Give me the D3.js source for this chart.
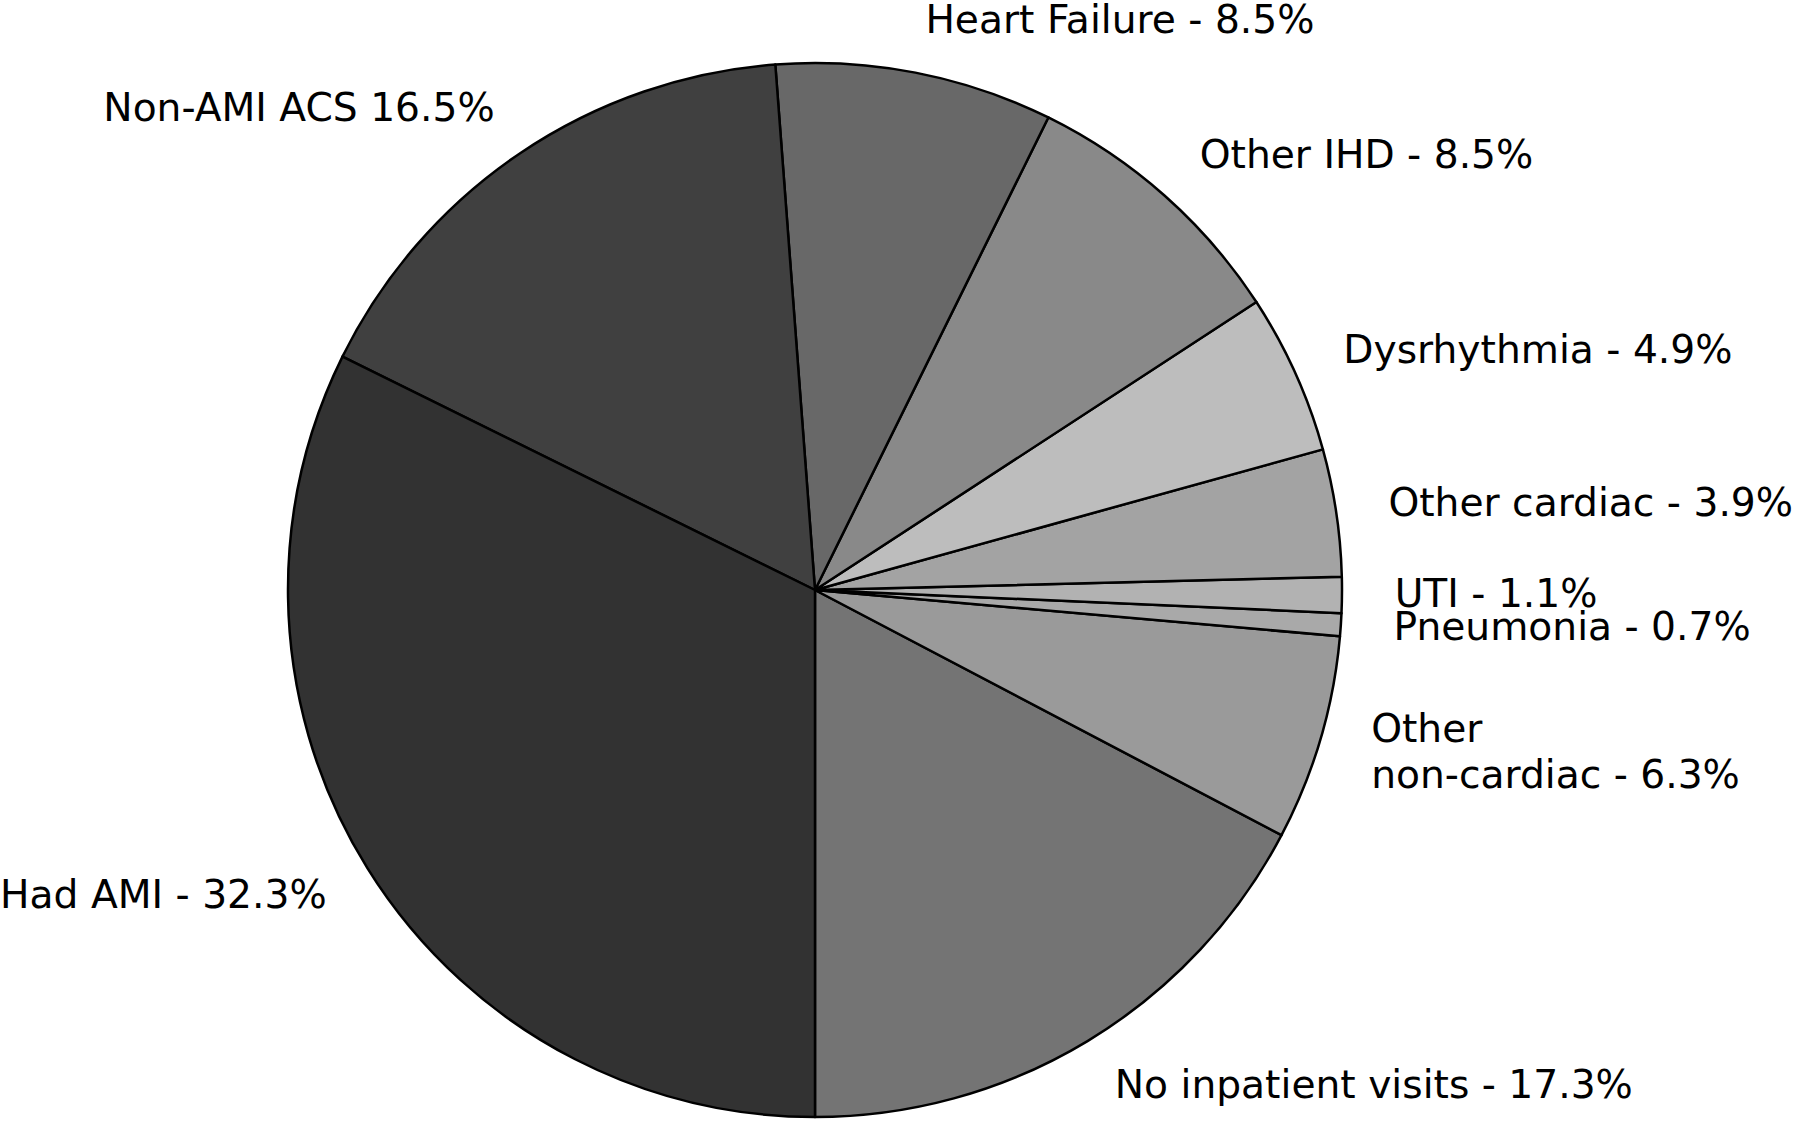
<!DOCTYPE html>
<html>
<head>
<meta charset="utf-8">
<script src="https://cdn.jsdelivr.net/npm/d3@7"></script>
<style>
  html, body { margin: 0; padding: 0; background: #fff; }
  svg { display: block; }
</style>
</head>
<body>
<svg id="chart"></svg>
<script>
// slices in drawing order: from 6 o'clock, counter-clockwise
const categories = [
  "No inpatient visits", "Other non-cardiac", "Pneumonia", "UTI",
  "Other cardiac", "Dysrhythmia", "Other IHD", "Heart Failure",
  "Non-AMI ACS", "Had AMI"
]
const values = [17.3, 6.3, 0.7, 1.1, 3.9, 4.9, 8.5, 8.5, 16.5, 32.3]
const labels = [
  "No inpatient visits - 17.3%", "Other\nnon-cardiac - 6.3%", "Pneumonia - 0.7%",
  "UTI - 1.1%", "Other cardiac - 3.9%", "Dysrhythmia - 4.9%", "Other IHD - 8.5%",
  "Heart Failure - 8.5%", "Non-AMI ACS 16.5%", "Had AMI - 32.3%"
]
const greys = [
  "#747474", "#9a9a9a", "#a9a9a9", "#b2b2b2", "#a3a3a3",
  "#bdbdbd", "#898989", "#686868", "#404040", "#323232"
]

const width = 1800
const height = 1124
const cx = 815
const cy = 590
const radius = 527
const fontSize = 39.2

const svg = d3.select("#chart")
  .attr("width", width)
  .attr("height", height)
  .attr("viewBox", `0 0 ${width} ${height}`)

const color = d3.scaleOrdinal().domain(categories).range(greys)

const pie = d3.pie()
  .sort(null)
  .value((d, i) => values[i])
  .startAngle(Math.PI)
  .endAngle(-Math.PI)

const arcs = pie(categories)

const arc = d3.arc().innerRadius(0).outerRadius(radius)

const g = svg.append("g").attr("transform", `translate(${cx},${cy})`)

g.selectAll("path")
  .data(arcs)
  .join("path")
  .attr("d", arc)
  .attr("fill", (d) => color(d.data))
  .attr("stroke", "#000")
  .attr("stroke-width", 2.5)
  .attr("stroke-linejoin", "round")

// labels at 1.1 * radius along the middle angle
const labelR = radius * 1.1
const lineH = fontSize * 1.17

g.selectAll("text")
  .data(arcs)
  .join("text")
  .attr("style", `font-family: "DejaVu Sans", sans-serif; font-size: ${fontSize}px;`)
  .attr("fill", "#000")
  .each(function (d, i) {
    const a = (d.startAngle + d.endAngle) / 2
    const x = Math.sin(a) * labelR
    const y = -Math.cos(a) * labelR
    const lines = labels[i].split("\n")
    const right = x > 0
    const text = d3.select(this)
      .attr("text-anchor", right ? "start" : "end")
    const tx = right ? x : x + 4
    const top = y - (lines.length - 1) * lineH / 2 + fontSize * 0.3
    lines.forEach((ln, k) => {
      text.append("tspan")
        .attr("x", tx)
        .attr("y", top + k * lineH)
        .text(ln)
    })
  })
</script>
</body>
</html>
